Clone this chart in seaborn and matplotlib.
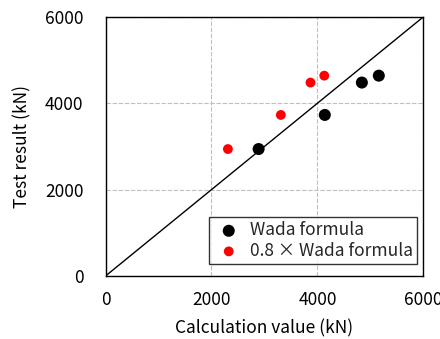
import matplotlib
matplotlib.use("Agg")
import matplotlib.pyplot as plt
import seaborn as sns
import pandas as pd

wada_calc = [2890, 4140, 4840, 5160]
wada_test = [2940, 3730, 4480, 4640]
wada08_calc = [2310, 3310, 3870, 4130]
wada08_test = [2940, 3730, 4480, 4640]
ticks = [0, 2000, 4000, 6000]

sns.set_theme(style="white")
plt.rcParams['font.family'] = ['Noto Sans CJK JP', 'DejaVu Sans']

fig = plt.figure(figsize=(4.4, 3.39), dpi=100)
ax = fig.add_axes([0.240, 0.186, 0.722, 0.764])

ax.plot([0, 6000], [0, 6000], color='black', lw=1.0, zorder=2)
df1 = pd.DataFrame({'x': wada_calc, 'y': wada_test})
df2 = pd.DataFrame({'x': wada08_calc, 'y': wada08_test})
sns.scatterplot(data=df1, x='x', y='y', ax=ax, color='black', s=75, edgecolor='none',
                label='Wada formula', zorder=3)
sns.scatterplot(data=df2, x='x', y='y', ax=ax, color='#ff0000', s=50, edgecolor='none',
                label='0.8 \u00d7 Wada formula', zorder=3)

ax.set_xlim(0, 6000)
ax.set_ylim(0, 6000)
ax.set_xticks(ticks)
ax.set_yticks(ticks)
ax.grid(True, color='#c0c0c0', lw=0.8, ls=(0, (4, 1.5)))
ax.set_axisbelow(True)
for sp in ax.spines.values():
    sp.set_color('black')
    sp.set_linewidth(1.0)
ax.tick_params(direction='in', length=4, color='black', labelsize=12.5,
               labelcolor='black')
ax.tick_params(axis='y', pad=16)
ax.tick_params(axis='x', pad=11)
ax.set_xlabel('Calculation value (kN)', fontsize=12.5, color='black', labelpad=7)
ax.set_ylabel('Test result (kN)', fontsize=12.5, color='black', labelpad=10)

leg = ax.legend(loc='lower right', frameon=True, fancybox=False, fontsize=12.5,
                borderpad=0.25, handletextpad=0.3, labelspacing=0.15,
                handlelength=1.8, bbox_to_anchor=(0.98, 0.045), borderaxespad=0)
leg.get_frame().set_edgecolor('black')
leg.get_frame().set_linewidth(1.0)

fig.savefig('out.png', dpi=100)
